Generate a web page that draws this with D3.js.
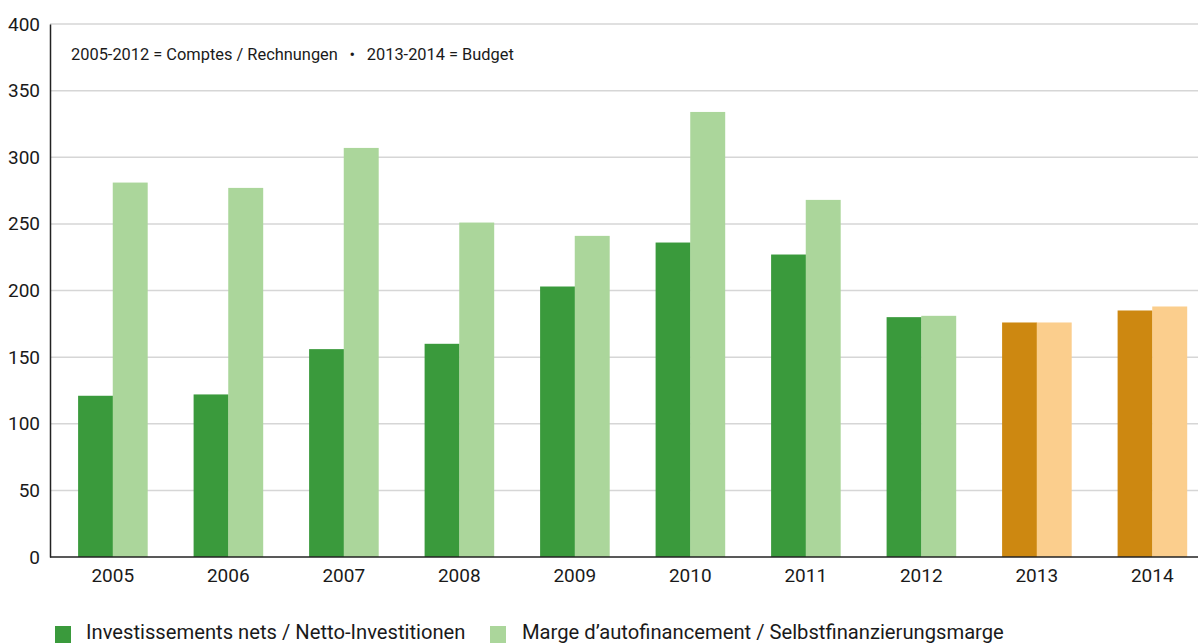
<!DOCTYPE html>
<html>
<head>
<meta charset="utf-8">
<script src="https://cdn.jsdelivr.net/npm/d3@7"></script>
<style>
  body { margin: 0; background: #fff; }
  svg { display: block; font-family: Roboto, sans-serif; }
</style>
</head>
<body>
<svg id="chart"></svg>
<script>
// data
const years = ["2005", "2006", "2007", "2008", "2009", "2010", "2011", "2012", "2013", "2014"];
const investments = [121, 122, 156, 160, 203, 236, 227, 180, 176, 185];
const selfFinancing = [281, 277, 307, 251, 241, 334, 268, 181, 176, 188];
const budgetYears = ["2013", "2014"];
const yTicks = [0, 50, 100, 150, 200, 250, 300, 350, 400];
const legendLabels = ["Investissements nets / Netto-Investitionen", "Marge d\u2019autofinancement / Selbstfinanzierungsmarge"];
const note = "2005-2012 = Comptes / Rechnungen\u2002\u2009\u2022\u2002\u20092013-2014 = Budget";

const width = 1198;
const height = 644;
const plotLeft = 50;
const plotTop = 24;
const plotBottom = 557;

const svg = d3.select("#chart")
    .attr("width", width)
    .attr("height", height);

const xScale = d3.scaleBand()
    .domain(years)
    .range([55, 1210])
    .paddingInner(0.4)
    .paddingOuter(0.2);

const sub = d3.scaleBand()
    .domain([0, 1])
    .range([0, xScale.bandwidth()]);

const yScale = d3.scaleLinear()
    .domain([0, 400])
    .range([plotBottom, plotTop]);

// gridlines
svg.append("g")
    .selectAll("line")
    .data(yTicks.filter(d => d > 0))
    .enter()
    .append("line")
    .attr("x1", plotLeft)
    .attr("x2", width)
    .attr("y1", d => yScale(d))
    .attr("y2", d => yScale(d))
    .attr("stroke", "#d6d6d6")
    .attr("stroke-width", 1.5);

// note
svg.append("text")
    .attr("x", 71)
    .attr("y", 60)
    .attr("font-size", 16.4)
    .attr("fill", "#1a1a1a")
    .style("white-space", "pre")
    .text(note);

// bars
const colors = {
    actual: ["#3a9a3c", "#abd69b"],
    budget: ["#cd8811", "#fbce8d"]
};

const groups = svg.append("g")
    .selectAll("g")
    .data(years)
    .enter()
    .append("g")
    .attr("transform", d => "translate(" + xScale(d) + ",0)");

groups.selectAll("rect")
    .data((d, i) => [
        { year: d, k: 0, v: investments[i] },
        { year: d, k: 1, v: selfFinancing[i] }
    ])
    .enter()
    .append("rect")
    .attr("x", d => sub(d.k))
    .attr("width", sub.bandwidth() + 0.3)
    .attr("y", d => yScale(d.v))
    .attr("height", d => yScale(0) - yScale(d.v))
    .attr("fill", d => (budgetYears.includes(d.year) ? colors.budget : colors.actual)[d.k]);

// y axis
const yAxis = d3.axisLeft(yScale)
    .tickValues(yTicks)
    .tickSize(0)
    .tickPadding(10);
svg.append("g")
    .attr("transform", "translate(" + plotLeft + ",0)")
    .call(yAxis)
    .call(g => g.select(".domain").attr("stroke", "#222").attr("stroke-width", 1.5))
    .selectAll("text")
    .attr("font-size", 19)
    .attr("font-family", "Roboto, sans-serif")
    .attr("fill", "#1a1a1a");

// x axis
const xAxis = d3.axisBottom(xScale).tickSize(0).tickPadding(12);
svg.append("g")
    .attr("transform", "translate(0," + plotBottom + ")")
    .call(xAxis)
    .call(g => g.select(".domain").remove())
    .selectAll("text")
    .attr("font-size", 19)
    .attr("font-family", "Roboto, sans-serif")
    .attr("fill", "#1a1a1a");

svg.append("line")
    .attr("x1", plotLeft)
    .attr("x2", width)
    .attr("y1", plotBottom)
    .attr("y2", plotBottom)
    .attr("stroke", "#222")
    .attr("stroke-width", 1.5);

// legend
const legendX = [55, 490];
const legend = svg.append("g")
    .selectAll("g")
    .data(legendLabels)
    .enter()
    .append("g")
    .attr("transform", (d, i) => "translate(" + legendX[i] + ",626)");

legend.append("rect")
    .attr("width", 16)
    .attr("height", 17)
    .attr("fill", (d, i) => colors.actual[i]);

legend.append("text")
    .attr("x", (d, i) => i === 0 ? 31 : 32)
    .attr("y", 13)
    .attr("font-size", 20.2)
    .attr("fill", "#1a1a1a")
    .text(d => d);
</script>
</body>
</html>
